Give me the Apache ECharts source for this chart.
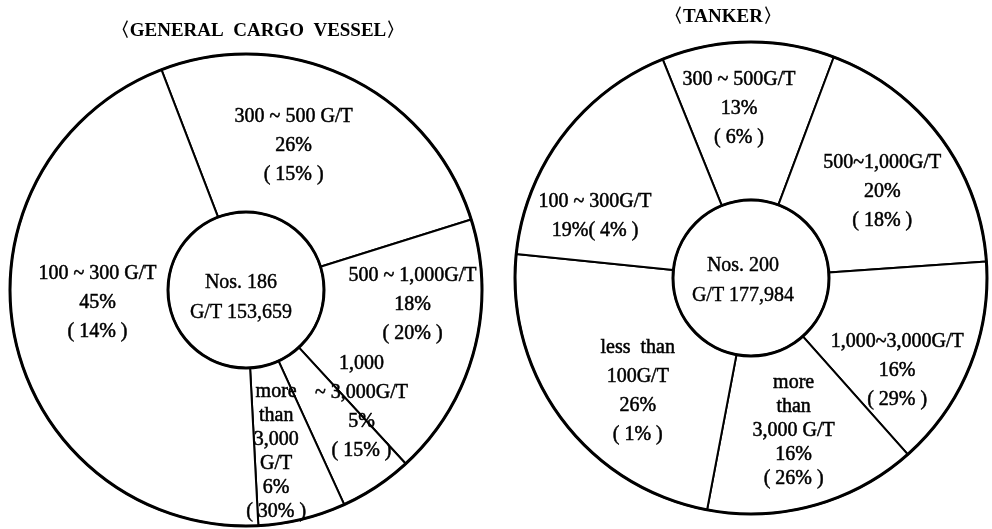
<!DOCTYPE html>
<html>
<head>
<meta charset="utf-8">
<script src="https://cdn.jsdelivr.net/npm/echarts@6/dist/echarts.min.js"></script>
<style>
  html, body { margin: 0; padding: 0; background: #fff; }
  #chart { width: 992px; height: 529px; }
</style>
</head>
<body>
<div id="chart"></div>
<script>
// General cargo vessels, by gross-tonnage class (clockwise from the top)
const cargoClasses = ['300~500 G/T', '500~1,000 G/T', '1,000~3,000 G/T', 'more than 3,000 G/T', '100~300 G/T'];
const cargoLabelNames = ['300 ~ 500 G/T', '500 ~ 1,000G/T', '1,000\n~ 3,000G/T', 'more\nthan\n3,000\nG/T', '100 ~ 300 G/T'];
const cargoCountShare = [26, 18, 5, 6, 45];      // share of vessels, %
const cargoTonnageShare = [15, 20, 15, 30, 14];  // share of gross tonnage, %
const cargoNos = 186;
const cargoGT = '153,659';

// Tankers, by gross-tonnage class (clockwise from the top)
const tankerClasses = ['300~500G/T', '500~1,000G/T', '1,000~3,000G/T', 'more than 3,000 G/T', 'less than 100G/T', '100~300G/T'];
const tankerLabelNames = ['300 ~ 500G/T', '500~1,000G/T', '1,000~3,000G/T', 'more\nthan\n3,000 G/T', 'less  than\n100G/T', '100 ~ 300G/T'];
const tankerCountShare = [13, 20, 16, 16, 26, 19];
const tankerTonnageShare = [6, 18, 29, 26, 1, 4];
const tankerNos = 200;
const tankerGT = '177,984';

// Hand placement of the slice captions relative to each slice's centre (px)
const cargoLabelShift = [[-22, 0], [12, -27], [27, -16], [-8, 6], [8, -21]];
const tankerLabelShift = [[-10, -9], [3, 9], [-2, 32], [0, -1], [15, 18], [-28, 34]];

const FONT = '"Liberation Serif", "DejaVu Serif", serif';

function pieData(classes, counts) {
  return classes.map((c, i) => ({ name: c, value: counts[i] }));
}

function sliceLabel(labelNames, counts, tonnage, inlineIdx) {
  return p => {
    const i = p.dataIndex;
    const sep = inlineIdx.indexOf(i) >= 0 ? '' : '\n';
    return labelNames[i] + '\n' + counts[i] + '%' + sep + '( ' + tonnage[i] + '% )';
  };
}

function slices(center, radius, startAngle, classes, labelNames, counts, tonnage, inlineIdx, shift, tallIdx) {
  const data = pieData(classes, counts).map((d, i) =>
    tallIdx.indexOf(i) >= 0 ? Object.assign(d, { label: { lineHeight: 24 } }) : d);
  return {
    type: 'pie',
    center: center,
    radius: radius,
    startAngle: startAngle,
    clockwise: true,
    silent: true,
    animation: false,
    avoidLabelOverlap: false,
    data: data,
    itemStyle: { color: '#fff', borderColor: '#000', borderWidth: 2 },
    label: {
      show: true,
      position: 'inside',
      color: '#000',
      fontFamily: FONT,
      fontSize: 20,
      lineHeight: 29,
      align: 'center',
      textBorderColor: '#000',
      textBorderWidth: 0.5,
      formatter: sliceLabel(labelNames, counts, tonnage, inlineIdx)
    },
    labelLayout: p => ({ dx: shift[p.dataIndex][0], dy: shift[p.dataIndex][1], hideOverlap: false }),
    labelLine: { show: false },
    emphasis: { disabled: true }
  };
}

function rim(center, radius, nos, gt, shift) {
  return {
    type: 'pie',
    center: center,
    radius: radius,
    silent: true,
    animation: false,
    data: [{ name: 'total', value: 1 }],
    itemStyle: { color: 'rgba(0,0,0,0)', borderColor: '#000', borderWidth: 3 },
    label: {
      show: true,
      position: 'center',
      color: '#000',
      fontFamily: FONT,
      fontSize: 20,
      lineHeight: 30,
      textBorderColor: '#000',
      textBorderWidth: 0.4,
      formatter: 'Nos. ' + nos + '\nG/T ' + gt
    },
    labelLayout: () => ({ dx: shift[0], dy: shift[1] }),
    labelLine: { show: false },
    emphasis: { disabled: true }
  };
}

const chart = echarts.init(document.getElementById('chart'), null, { renderer: 'canvas' });
chart.setOption({
  backgroundColor: '#fff',
  animation: false,
  graphic: [
    { type: 'text', x: 258, y: 31, style: { text: '〈GENERAL  CARGO  VESSEL〉', fontFamily: FONT, fontSize: 19, fontWeight: 'bold', fill: '#000', textAlign: 'center', textVerticalAlign: 'middle' } },
    { type: 'text', x: 723, y: 17, style: { text: '〈TANKER〉', fontFamily: FONT, fontSize: 19, fontWeight: 'bold', fill: '#000', textAlign: 'center', textVerticalAlign: 'middle' } }
  ],
  series: [
    slices([246, 290], [78, 236], 111, cargoClasses, cargoLabelNames, cargoCountShare, cargoTonnageShare, [], cargoLabelShift, [3]),
    rim([246, 290], [78, 236], cargoNos, cargoGT, [-5, 8]),
    slices([751, 278], [78, 236], 112, tankerClasses, tankerLabelNames, tankerCountShare, tankerTonnageShare, [5], tankerLabelShift, [3]),
    rim([751, 278], [78, 236], tankerNos, tankerGT, [-8, 3])
  ]
});
</script>
</body>
</html>
